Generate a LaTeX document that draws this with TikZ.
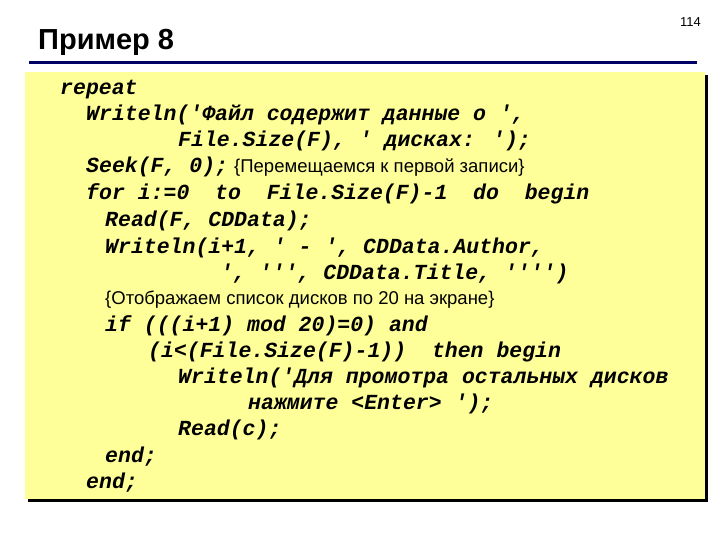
\documentclass[tikz,border=0pt]{standalone}
\usepackage{fontspec}
\setmainfont{Liberation Sans}
\newfontfamily\codefont{Liberation Mono}
\definecolor{boxyellow}{RGB}{255,255,153}
\definecolor{navy}{RGB}{0,0,102}
\begin{document}
\begin{tikzpicture}[x=1pt,y=-1pt,
  code/.style={anchor=base west,inner sep=0pt,font=\codefont\bfseries\itshape\fontsize{21.5}{24}\selectfont},
  cmt/.style={anchor=base west,inner sep=0pt,font=\fontsize{18.5}{22}\selectfont}]
\useasboundingbox (0,0) rectangle (720,540);
\node[anchor=base west,inner sep=0pt,font=\bfseries\fontsize{29}{32}\selectfont] (title) at (38,50) {Пример 8};
\node[anchor=base east,inner sep=0pt,font=\fontsize{13}{15}\selectfont] (pg) at (701,27) {114};
\draw[navy,line width=3pt] (29,63) -- (697,63);
\fill[black] (28,75) rectangle (708,502);
\fill[boxyellow] (25,72) rectangle (705,499);
\node[code] (l1) at (60,95) {repeat};
\node[code] (l2) at (86,121) {Writeln('Файл содержит данные о ',};
\node[code] (l3) at (178,147) {File.Size(F), ' дисках: ');};
\node[code] (l4) at (86,173) {Seek(F, 0);};
\node[cmt] (c1) at (234,173) {\{Перемещаемся к первой записи\}};
\node[code] (l5) at (86,200) {for i:=0\ \ to\ \ File.Size(F)-1\ \ do\ \ begin};
\node[code] (l6) at (105,226) {Read(F, CDData);};
\node[code] (l7) at (105,253) {Writeln(i+1, ' - ', CDData.Author,};
\node[code] (l8) at (220,279) {', ''', CDData.Title, '''')};
\node[cmt] (c2) at (105,304) {\{Отображаем список дисков по 20 на экране\}};
\node[code] (l9) at (105,331) {if (((i+1) mod 20)=0) and};
\node[code] (l10) at (148,357) {(i<(File.Size(F)-1))\ \ then begin};
\node[code] (l11) at (178,383) {Writeln('Для промотра остальных дисков};
\node[code] (l12) at (248,409) {нажмите <Enter> ');};
\node[code] (l13) at (178,435) {Read(c);};
\node[code] (l14) at (105,462) {end;};
\node[code] (l15) at (86,488) {end;};
\end{tikzpicture}
\end{document}
